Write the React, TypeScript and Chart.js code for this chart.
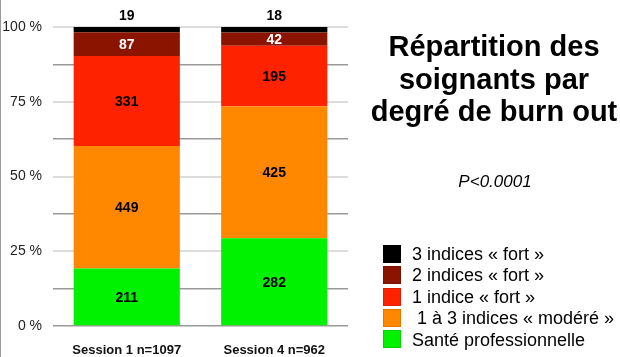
import React, { useEffect, useRef } from "react";
import { Chart, registerables } from "chart.js";

Chart.register(...registerables);

const categories = ["Session 1 n=1097", "Session 4 n=962"];
const santePro = [211, 282];
const modere = [449, 425];
const fort1 = [331, 195];
const fort2 = [87, 42];
const fort3 = [19, 18];

const seriesNames = [
  "Santé professionnelle",
  " 1 à 3 indices « modéré »",
  "1 indice « fort »",
  "2 indices « fort »",
  "3 indices « fort »",
];
const seriesColors = ["#00F200", "#FF8800", "#FF2200", "#8A1400", "#000000"];
const labelColors = ["#000", "#000", "#000", "#fff", "#000"];
const seriesValues = [santePro, modere, fort1, fort2, fort3];

const titleLines = ["Répartition des", "soignants par", "degré de burn out"];
const pValue = "P<0.0001";

const FONT = "'Liberation Sans', Arial, Helvetica, sans-serif";

export default function App() {
  const ref = useRef<HTMLCanvasElement | null>(null);

  useEffect(() => {
    if (!ref.current) return;
    const totals = categories.map((_, j) =>
      seriesValues.reduce((s, arr) => s + arr[j], 0)
    );
    const datasets = seriesValues.map((arr, i) => ({
      label: seriesNames[i],
      data: arr.map((v, j) => (v / totals[j]) * 100),
      backgroundColor: seriesColors[i],
      borderWidth: 0,
      barPercentage: 0.72,
      categoryPercentage: 1,
    }));

    const labelPlugin = {
      id: "valueLabels",
      afterDatasetsDraw(chart: any) {
        const ctx = chart.ctx;
        ctx.save();
        ctx.font = `bold 14px ${FONT}`;
        ctx.textAlign = "center";
        ctx.textBaseline = "middle";
        chart.data.datasets.forEach((_: any, i: number) => {
          const meta = chart.getDatasetMeta(i);
          meta.data.forEach((bar: any, j: number) => {
            const p = bar.getProps(["x", "y", "base"], true);
            const raw = seriesValues[i][j];
            if (i === seriesValues.length - 1) {
              ctx.fillStyle = "#000";
              ctx.fillText(String(raw), p.x, p.y - 11);
            } else {
              ctx.fillStyle = labelColors[i];
              ctx.fillText(String(raw), p.x, (p.y + p.base) / 2 + 1);
            }
          });
        });
        ctx.restore();
      },
    };

    const chart = new Chart(ref.current, {
      type: "bar",
      data: { labels: categories, datasets },
      options: {
        animation: false,
        responsive: false,
        layout: { padding: { left: 0, right: 272, top: 27, bottom: 0 } },
        plugins: {
          legend: { display: false },
          tooltip: { enabled: false },
          title: { display: false },
        },
        scales: {
          x: {
            stacked: true,
            grid: { display: false },
            border: { display: false },
            ticks: {
              font: { family: FONT, size: 13, weight: "bold" },
              color: "#111",
              padding: 9,
            },
            afterFit: (s: any) => {
              s.height = 31;
            },
          },
          y: {
            stacked: true,
            min: 0,
            max: 100,
            border: { display: false },
            ticks: {
              stepSize: 12.5,
              autoSkip: false,
              callback: (v: any) => (Number(v) % 25 === 0 ? `${v} %` : ""),
              font: { family: FONT, size: 14 },
              color: "#222",
              padding: 11,
            },
            grid: {
              drawTicks: false,
              color: (c: any) =>
                c.tick && c.tick.value % 25 === 0 && c.tick.value !== 0
                  ? "#dcdcdc"
                  : "#999999",
              lineWidth: (c: any) =>
                c.tick && c.tick.value % 25 === 0 && c.tick.value !== 0 ? 2 : 1.5,
            },
            afterFit: (s: any) => {
              s.width = 53;
            },
          },
        },
      } as any,
      plugins: [labelPlugin],
    });
    return () => chart.destroy();
  }, []);

  const legendOrder = [4, 3, 2, 1, 0];

  return (
    <div
      style={{
        position: "fixed",
        left: 0,
        top: 0,
        width: 620,
        height: 357,
        background: "#fff",
        fontFamily: FONT,
        overflow: "hidden",
      }}
    >
      <canvas ref={ref} width={620} height={357} style={{ width: 620, height: 357, display: "block" }} />
      <div style={{ position: "absolute", left: 0, top: 0, width: 1, height: 357, background: "#999" }} />
      <div
        style={{
          position: "absolute",
          left: 364,
          top: 30,
          width: 260,
          textAlign: "center",
          fontWeight: "bold",
          fontSize: 29,
          lineHeight: "32.5px",
          color: "#000",
        }}
      >
        {titleLines.map((t, i) => (
          <div key={i}>{t}</div>
        ))}
      </div>
      <div
        style={{
          position: "absolute",
          left: 395,
          top: 172,
          width: 200,
          textAlign: "center",
          fontStyle: "italic",
          fontSize: 17,
          lineHeight: "20px",
          color: "#000",
        }}
      >
        {pValue}
      </div>
      {legendOrder.map((si, r) => (
        <div key={si}>
          <div
            style={{
              position: "absolute",
              left: 383,
              top: 245 + r * 21.3,
              width: 18,
              height: 18,
              background: seriesColors[si],
              boxSizing: "border-box",
              border: "1px solid rgba(0,0,0,0.12)",
            }}
          />
          <div
            style={{
              position: "absolute",
              left: 412,
              top: 243.7 + r * 21.5,
              fontSize: 18,
              lineHeight: "21.5px",
              whiteSpace: "pre",
              color: "#000",
            }}
          >
            {seriesNames[si]}
          </div>
        </div>
      ))}
    </div>
  );
}
